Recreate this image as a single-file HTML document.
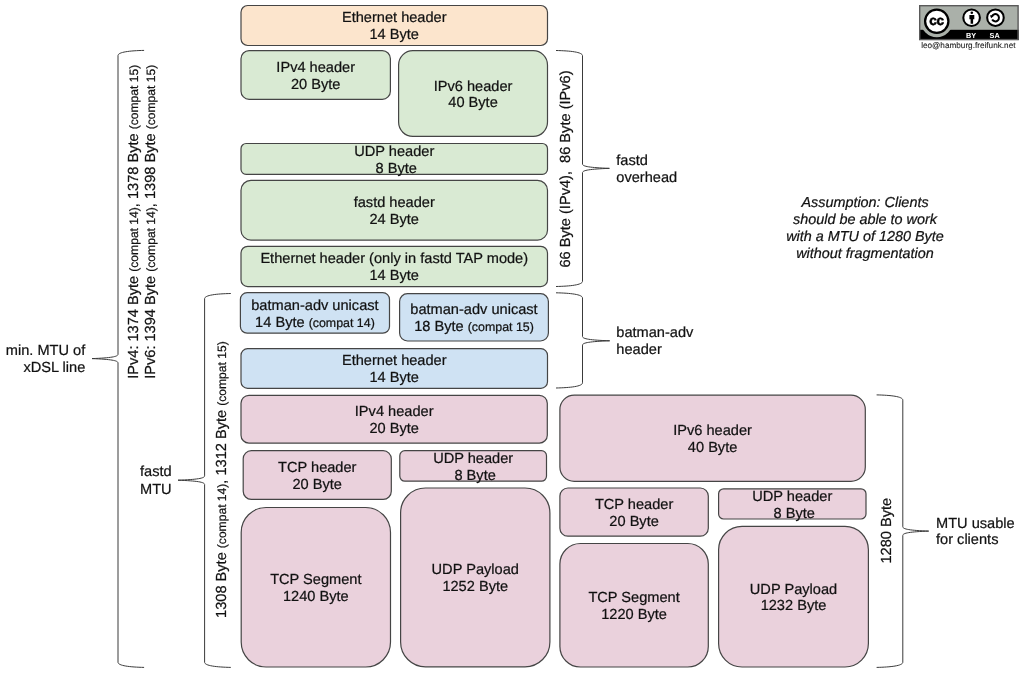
<!DOCTYPE html><html><head><meta charset="utf-8"><style>html,body{margin:0;padding:0;background:#fff;}svg{display:block;will-change:transform;}text{font-family:"Liberation Sans",sans-serif;font-size:14.60px;fill:#111;stroke:#111;stroke-width:0.22px;text-rendering:geometricPrecision;}.s{font-size:12.40px;}.r .s{font-size:12.1px;}.i{font-style:italic;font-size:14.4px;}</style></head><body>
<svg width="1024" height="674" viewBox="0 0 1024 674">
<rect x="241.00" y="5.50" width="306.50" height="40.00" rx="6.67" ry="6.67" fill="#fce5cd" stroke="#454545" stroke-width="1.2"/>
<rect x="241.00" y="50.60" width="149.40" height="48.70" rx="8.12" ry="8.12" fill="#d9ead3" stroke="#454545" stroke-width="1.2"/>
<rect x="398.60" y="50.70" width="148.90" height="85.70" rx="14.28" ry="14.28" fill="#d9ead3" stroke="#454545" stroke-width="1.2"/>
<rect x="241.00" y="143.50" width="306.50" height="30.90" rx="5.15" ry="5.15" fill="#d9ead3" stroke="#454545" stroke-width="1.2"/>
<rect x="241.00" y="180.30" width="306.50" height="59.80" rx="9.97" ry="9.97" fill="#d9ead3" stroke="#454545" stroke-width="1.2"/>
<rect x="241.00" y="246.30" width="306.50" height="40.30" rx="6.72" ry="6.72" fill="#d9ead3" stroke="#454545" stroke-width="1.2"/>
<rect x="240.40" y="292.70" width="149.10" height="40.50" rx="6.75" ry="6.75" fill="#cfe2f3" stroke="#454545" stroke-width="1.2"/>
<rect x="399.60" y="293.70" width="148.80" height="47.30" rx="7.88" ry="7.88" fill="#cfe2f3" stroke="#454545" stroke-width="1.2"/>
<rect x="241.00" y="348.70" width="306.50" height="39.60" rx="6.60" ry="6.60" fill="#cfe2f3" stroke="#454545" stroke-width="1.2"/>
<rect x="241.00" y="395.30" width="306.30" height="47.80" rx="7.97" ry="7.97" fill="#ead1dc" stroke="#454545" stroke-width="1.2"/>
<rect x="243.20" y="450.70" width="148.10" height="48.70" rx="8.12" ry="8.12" fill="#ead1dc" stroke="#454545" stroke-width="1.2"/>
<rect x="399.80" y="450.70" width="146.70" height="30.50" rx="5.08" ry="5.08" fill="#ead1dc" stroke="#454545" stroke-width="1.2"/>
<rect x="241.20" y="507.50" width="149.30" height="159.50" rx="24.88" ry="24.88" fill="#ead1dc" stroke="#454545" stroke-width="1.2"/>
<rect x="400.60" y="488.00" width="149.30" height="178.80" rx="24.88" ry="24.88" fill="#ead1dc" stroke="#454545" stroke-width="1.2"/>
<rect x="559.90" y="395.20" width="305.40" height="86.10" rx="14.35" ry="14.35" fill="#ead1dc" stroke="#454545" stroke-width="1.2"/>
<rect x="559.90" y="488.00" width="148.40" height="48.20" rx="8.03" ry="8.03" fill="#ead1dc" stroke="#454545" stroke-width="1.2"/>
<rect x="718.60" y="488.80" width="147.40" height="30.20" rx="5.03" ry="5.03" fill="#ead1dc" stroke="#454545" stroke-width="1.2"/>
<rect x="559.90" y="543.50" width="148.40" height="123.50" rx="20.58" ry="20.58" fill="#ead1dc" stroke="#454545" stroke-width="1.2"/>
<rect x="718.60" y="526.40" width="149.80" height="140.60" rx="23.43" ry="23.43" fill="#ead1dc" stroke="#454545" stroke-width="1.2"/>
<text x="394.25" y="22.45" text-anchor="middle">Ethernet header</text><text x="394.25" y="39.15" text-anchor="middle">14 Byte</text>
<text x="315.70" y="71.90" text-anchor="middle">IPv4 header</text><text x="315.70" y="88.60" text-anchor="middle">20 Byte</text>
<text x="473.05" y="90.50" text-anchor="middle">IPv6 header</text><text x="473.05" y="107.20" text-anchor="middle">40 Byte</text>
<text x="394.25" y="155.90" text-anchor="middle">UDP header</text><text x="396.25" y="172.60" text-anchor="middle">8 Byte</text>
<text x="394.25" y="207.15" text-anchor="middle">fastd header</text><text x="394.25" y="223.85" text-anchor="middle">24 Byte</text>
<text x="394.25" y="263.40" text-anchor="middle">Ethernet header (only in fastd TAP mode)</text><text x="394.25" y="280.10" text-anchor="middle">14 Byte</text>
<text x="314.95" y="309.90" text-anchor="middle">batman-adv unicast</text><text x="314.95" y="326.60" text-anchor="middle">14 Byte <tspan class="s">(compat 14)</tspan></text>
<text x="474.00" y="314.30" text-anchor="middle">batman-adv unicast</text><text x="474.00" y="331.00" text-anchor="middle">18 Byte <tspan class="s">(compat 15)</tspan></text>
<text x="394.25" y="365.45" text-anchor="middle">Ethernet header</text><text x="394.25" y="382.15" text-anchor="middle">14 Byte</text>
<text x="394.15" y="416.15" text-anchor="middle">IPv4 header</text><text x="394.15" y="432.85" text-anchor="middle">20 Byte</text>
<text x="317.25" y="472.00" text-anchor="middle">TCP header</text><text x="317.25" y="488.70" text-anchor="middle">20 Byte</text>
<text x="473.15" y="462.90" text-anchor="middle">UDP header</text><text x="475.15" y="479.60" text-anchor="middle">8 Byte</text>
<text x="315.85" y="584.20" text-anchor="middle">TCP Segment</text><text x="315.85" y="600.90" text-anchor="middle">1240 Byte</text>
<text x="475.25" y="574.35" text-anchor="middle">UDP Payload</text><text x="475.25" y="591.05" text-anchor="middle">1252 Byte</text>
<text x="712.60" y="435.20" text-anchor="middle">IPv6 header</text><text x="712.60" y="451.90" text-anchor="middle">40 Byte</text>
<text x="634.10" y="509.05" text-anchor="middle">TCP header</text><text x="634.10" y="525.75" text-anchor="middle">20 Byte</text>
<text x="792.30" y="500.85" text-anchor="middle">UDP header</text><text x="794.30" y="517.55" text-anchor="middle">8 Byte</text>
<text x="634.10" y="602.20" text-anchor="middle">TCP Segment</text><text x="634.10" y="618.90" text-anchor="middle">1220 Byte</text>
<text x="793.50" y="593.65" text-anchor="middle">UDP Payload</text><text x="793.50" y="610.35" text-anchor="middle">1232 Byte</text>
<path d="M144.1,50.4 C130.01,50.70 118.0,52.00 118.0,55.60 L118.0,354.30 C118.0,356.70 110.72,357.90 92,358.6 C110.72,359.30 118.0,360.50 118.0,362.90 L118.0,662.20 C118.0,665.80 130.01,667.10 144.1,667.4" fill="none" stroke="#3a3a3a" stroke-width="1.0"/>
<path d="M230.8,293.5 C216.65,293.80 204.6,295.10 204.6,298.70 L204.6,475.90 C204.6,478.30 197.15,479.50 178,480.2 C197.15,480.90 204.6,482.10 204.6,484.50 L204.6,662.20 C204.6,665.80 216.65,667.10 230.8,667.4" fill="none" stroke="#3a3a3a" stroke-width="1.0"/>
<path d="M556,50.5 C570.31,50.80 582.5,52.10 582.5,55.70 L582.5,164.05 C582.5,166.45 590.03,167.65 609.4,168.35 C590.03,169.05 582.5,170.25 582.5,172.65 L582.5,281.30 C582.5,284.90 570.31,286.20 556,286.5" fill="none" stroke="#3a3a3a" stroke-width="1.0"/>
<path d="M556,292.8 C570.31,293.10 582.5,294.40 582.5,298.00 L582.5,336.50 C582.5,338.90 590.12,340.10 609.7,340.8 C590.12,341.50 582.5,342.70 582.5,345.10 L582.5,382.80 C582.5,386.40 570.31,387.70 556,388.0" fill="none" stroke="#3a3a3a" stroke-width="1.0"/>
<path d="M876.6,394.9 C890.75,395.20 902.8,396.50 902.8,400.10 L902.8,526.80 C902.8,529.20 910.05,530.40 928.7,531.1 C910.05,531.80 902.8,533.00 902.8,535.40 L902.8,662.20 C902.8,665.80 890.75,667.10 876.6,667.4" fill="none" stroke="#3a3a3a" stroke-width="1.0"/>
<text class="r" transform="translate(137.8,221.8) rotate(-90)" text-anchor="middle">IPv4: 1374 Byte <tspan class="s">(compat 14)</tspan>, 1378 Byte <tspan class="s">(compat 15)</tspan></text>
<text class="r" transform="translate(155.2,221.8) rotate(-90)" text-anchor="middle">IPv6: 1394 Byte <tspan class="s">(compat 14)</tspan>, 1398 Byte <tspan class="s">(compat 15)</tspan></text>
<text class="r" transform="translate(225.7,479.6) rotate(-90)" text-anchor="middle">1308 Byte <tspan class="s">(compat 14)</tspan>, 1312 Byte <tspan class="s">(compat 15)</tspan></text>
<text class="r" transform="translate(570,169) rotate(-90)" text-anchor="middle">66 Byte (IPv4),&#160; 86 Byte (IPv6)</text>
<text class="r" transform="translate(890.6,530.7) rotate(-90)" text-anchor="middle">1280 Byte</text>
<text x="85.3" y="355.4" text-anchor="end">min. MTU of</text>
<text x="85.3" y="371.9" text-anchor="end">xDSL line</text>
<text x="140" y="476.4" text-anchor="start">fastd</text>
<text x="140" y="493.6" text-anchor="start">MTU</text>
<text x="616.3" y="164.9" text-anchor="start">fastd</text>
<text x="616.3" y="182.0" text-anchor="start">overhead</text>
<text x="616.3" y="337.3" text-anchor="start">batman-adv</text>
<text x="616.3" y="354.0" text-anchor="start">header</text>
<text x="936" y="527.5" text-anchor="start">MTU usable</text>
<text x="936" y="544.4" text-anchor="start">for clients</text>
<text x="865" y="207.4" text-anchor="middle" class="i">Assumption: Clients</text>
<text x="865" y="224.3" text-anchor="middle" class="i">should be able to work</text>
<text x="865" y="241.1" text-anchor="middle" class="i">with a MTU of 1280 Byte</text>
<text x="865" y="257.9" text-anchor="middle" class="i">without fragmentation</text>

<g>
<rect x="919.7" y="5.7" width="98.4" height="33.9" fill="#aab0a9"/>
<rect x="919" y="29.8" width="99.8" height="10.2" fill="#000"/>
<circle cx="936.75" cy="21.2" r="16" fill="#aab0a9"/>
<circle cx="936.75" cy="21.2" r="11.65" fill="#fff" stroke="#000" stroke-width="2.25"/>
<rect x="919.7" y="5.7" width="98.4" height="33.9" fill="none" stroke="#5a5a5a" stroke-width="1.4"/>
<text x="936.5" y="25.2" text-anchor="middle" style="font-weight:bold;font-size:13.6px;fill:#000;letter-spacing:-0.4px;stroke:#000;stroke-width:0.5px">cc</text>
<circle cx="971.6" cy="17.75" r="8.3" fill="#fff" stroke="#000" stroke-width="2.05"/>
<circle cx="971.8" cy="12.8" r="1.3" fill="#000"/>
<path d="M969.4,15.1 L974.3,15.1 L974.3,19.3 L973.1,19.3 L973.1,23.7 L970.6,23.7 L970.6,19.3 L969.4,19.3 Z" fill="#000"/>
<circle cx="995.45" cy="17.7" r="8.3" fill="#fff" stroke="#000" stroke-width="2.05"/>
<path d="M991.99,16.21 A3.65,3.65 0 1 1 992.14,19.58" fill="none" stroke="#000" stroke-width="2.0"/>
<path d="M989.9,15.3 L993.8,15.8 L991.2,18.3 Z" fill="#000"/>
<text x="971.15" y="37.8" text-anchor="middle" style="font-weight:bold;font-size:7.3px;fill:#fff;stroke:none">BY</text>
<text x="994.6" y="37.8" text-anchor="middle" style="font-weight:bold;font-size:7.3px;fill:#fff;stroke:none">SA</text>
<text x="968.3" y="47.9" text-anchor="middle" style="font-size:8.2px;fill:#222;stroke:#222;stroke-width:0.1px">leo@hamburg.freifunk.net</text>
</g>

</svg></body></html>
